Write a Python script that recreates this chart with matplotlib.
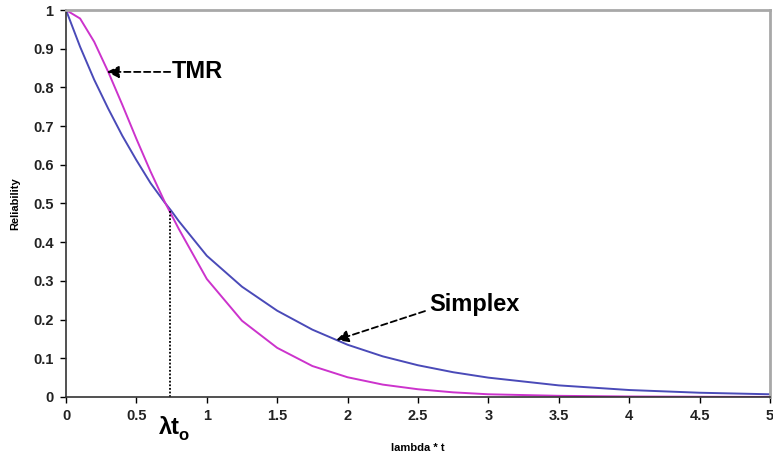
import matplotlib
matplotlib.use("Agg")
import matplotlib.pyplot as plt

plt.rcParams["font.family"] = ["Liberation Sans", "DejaVu Sans"]

# values
LAMBDA_T = [0.0, 0.1, 0.2, 0.3, 0.4, 0.5, 0.6, 0.7, 0.75, 0.8, 0.9, 1.0,
            1.25, 1.5, 1.75, 2.0, 2.25, 2.5, 2.75, 3.0, 3.5, 4.0, 4.5, 5.0]
SIMPLEX = [1.0, 0.905, 0.82, 0.745, 0.675, 0.612, 0.553, 0.503, 0.48, 0.455,
           0.41, 0.365, 0.285, 0.223, 0.174, 0.135, 0.105, 0.082, 0.064,
           0.050, 0.030, 0.018, 0.011, 0.007]
TMR = [1.0, 0.978, 0.918, 0.84, 0.755, 0.667, 0.583, 0.505, 0.47, 0.435,
       0.37, 0.305, 0.197, 0.127, 0.08, 0.051, 0.032, 0.02, 0.012, 0.007,
       0.003, 0.0013, 0.0006, 0.0002]

CROSS_X = 0.74
CROSS_Y = 0.483

X_TICKS = [0, 0.5, 1, 1.5, 2, 2.5, 3, 3.5, 4, 4.5, 5]
X_LABELS = ["0", "0.5", "1", "1.5", "2", "2.5", "3", "3.5", "4", "4.5", "5"]
Y_TICKS = [0, 0.1, 0.2, 0.3, 0.4, 0.5, 0.6, 0.7, 0.8, 0.9, 1.0]
Y_LABELS = ["0", "0.1", "0.2", "0.3", "0.4", "0.5", "0.6", "0.7", "0.8", "0.9", "1"]

BLUE = "#4a4ab8"
MAGENTA = "#cc33cc"

fig = plt.figure(figsize=(7.73, 4.55), dpi=100)
ax = fig.add_axes([0.0854, 0.1275, 0.9106, 0.8505])

ax.plot(LAMBDA_T, SIMPLEX, color=BLUE, lw=1.4)
ax.plot(LAMBDA_T, TMR, color=MAGENTA, lw=1.4)

ax.plot([CROSS_X, CROSS_X], [0, CROSS_Y], color="black", lw=1.3, ls=(0, (1, 1)))

ax.set_xlim(0, 5)
ax.set_ylim(0, 1)
ax.set_xticks(X_TICKS)
ax.set_xticklabels(X_LABELS)
ax.set_yticks(Y_TICKS)
ax.set_yticklabels(Y_LABELS)
ax.tick_params(direction="out", length=4, width=1, labelsize=10.5, pad=5)
for lbl in ax.get_xticklabels() + ax.get_yticklabels():
    lbl.set_fontweight("bold")
    lbl.set_color("#222222")

for s in ["left", "bottom"]:
    ax.spines[s].set_color("#333333")
    ax.spines[s].set_linewidth(1.2)
for s in ["top", "right"]:
    ax.spines[s].set_color("#a8a8a8")
    ax.spines[s].set_linewidth(2)

ax.set_ylabel("Reliability", fontsize=8, fontweight="bold", labelpad=9)
ax.set_xlabel("lambda * t", fontsize=8, fontweight="bold", labelpad=14)

# lambda t_o marker label below the axis
ax.text(CROSS_X + 0.07, -0.08, "λt", fontsize=17, fontweight="bold",
        ha="right", va="center", clip_on=False)
ax.text(CROSS_X + 0.06, -0.1, "o", fontsize=12, fontweight="bold",
        ha="left", va="center", clip_on=False)

# annotations
arrow_kw = dict(arrowstyle="-|>", color="black", lw=1.3, ls=(0, (3.5, 2)),
                mutation_scale=18, shrinkA=0, shrinkB=0)
ax.annotate("", xy=(0.29, 0.84), xytext=(0.74, 0.84), arrowprops=arrow_kw)
ax.text(0.75, 0.84, "TMR", fontsize=17, fontweight="bold", ha="left", va="center")

ax.annotate("", xy=(1.92, 0.147), xytext=(2.55, 0.222), arrowprops=arrow_kw)
ax.text(2.58, 0.24, "Simplex", fontsize=17, fontweight="bold", ha="left", va="center")

fig.savefig("out.png", dpi=100)
